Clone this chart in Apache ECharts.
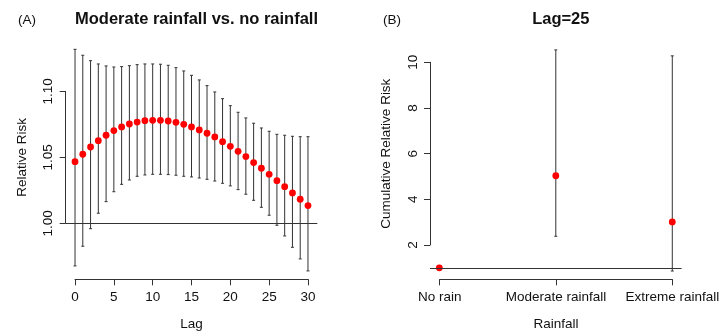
<!DOCTYPE html>
<html><head><meta charset="utf-8">
<script src="https://cdn.jsdelivr.net/npm/echarts@6/dist/echarts.min.js"></script>
<style>html,body{margin:0;padding:0;background:#fff}#c{width:723px;height:333px}</style>
</head><body><div id="c"></div>
<script>
// ---- data: panel A ----
const lags = [0,1,2,3,4,5,6,7,8,9,10,11,12,13,14,15,16,17,18,19,20,21,22,23,24,25,26,27,28,29,30];
const rr = [1.0467,1.0523,1.0578,1.0626,1.0667,1.0702,1.0730,1.0752,1.0767,1.0777,1.0780,1.0780,1.0775,1.0765,1.0750,1.0730,1.0707,1.0682,1.0654,1.0618,1.0583,1.0545,1.0505,1.0460,1.0417,1.0371,1.0323,1.0277,1.0230,1.0182,1.0134];
const rrLower = [0.9677,0.9826,0.9959,1.0076,1.0164,1.0239,1.0295,1.0328,1.0356,1.0366,1.0371,1.0371,1.0369,1.0364,1.0356,1.0351,1.0343,1.0333,1.0320,1.0303,1.0283,1.0255,1.0220,1.0174,1.0121,1.0061,0.9985,0.9904,0.9818,0.9730,0.9639];
const rrUpper = [1.1318,1.1273,1.1232,1.1207,1.1192,1.1184,1.1187,1.1194,1.1202,1.1207,1.1207,1.1205,1.1197,1.1179,1.1154,1.1121,1.1086,1.1043,1.0995,1.0944,1.0891,1.0841,1.0798,1.0758,1.0722,1.0697,1.0674,1.0667,1.0659,1.0656,1.0656];
// ---- data: panel B ----
const rainCats = ['No rain','Moderate rainfall','Extreme rainfall'];
const rainPos = [1,2,3];
const crr = [1, 5.03, 3.01];
const crrLower = [1, 2.38, 0.86];
const crrUpper = [1, 10.54, 10.28];

const FONT = '"Liberation Sans", Arial, Helvetica, sans-serif';
const LINE = '#333333';
const TXT = '#111111';

function errRender(params, api) {
  const x = api.value(0), lo = api.value(1), hi = api.value(2);
  const p1 = api.coord([x, lo]), p2 = api.coord([x, hi]);
  const cap = 1.5;
  const style = {stroke: LINE, lineWidth: 1};
  return {type: 'group', children: [
    {type: 'line', shape: {x1: p1[0], y1: p1[1], x2: p2[0], y2: p2[1]}, style: style},
    {type: 'line', shape: {x1: p1[0] - cap, y1: p1[1], x2: p1[0] + cap, y2: p1[1]}, style: style},
    {type: 'line', shape: {x1: p2[0] - cap, y1: p2[1], x2: p2[0] + cap, y2: p2[1]}, style: style}
  ]};
}

const tickStyle = {show: true, length: 6, lineStyle: {color: LINE, width: 1}};
const lineStyle = {show: true, lineStyle: {color: LINE, width: 1}};
const lblStyle = {color: TXT, fontFamily: FONT, fontSize: 13.5};
const nameStyle = {color: TXT, fontFamily: FONT, fontSize: 13.5};

const errA = lags.map((l, i) => [l, rrLower[i], rrUpper[i]]);
const ptsA = lags.map((l, i) => [l, rr[i]]);
const errB = rainPos.map((p, i) => [p, crrLower[i], crrUpper[i]]);
const ptsB = rainPos.map((p, i) => [p, crr[i]]);

const option = {
  animation: false,
  backgroundColor: '#fff',
  title: [
    {text: 'Moderate rainfall vs. no rainfall', left: 191.5, top: 6, textAlign: 'center',
     textStyle: {fontFamily: FONT, fontSize: 16.5, fontWeight: 'bold', color: TXT}},
    {text: 'Lag=25', left: 555.8, top: 6, textAlign: 'center',
     textStyle: {fontFamily: FONT, fontSize: 16.5, fontWeight: 'bold', color: TXT}},
    {text: '(A)', left: 13, top: 8, textStyle: {fontFamily: FONT, fontSize: 13.5, fontWeight: 'normal', color: TXT}},
    {text: '(B)', left: 378, top: 8, textStyle: {fontFamily: FONT, fontSize: 13.5, fontWeight: 'normal', color: TXT}}
  ],
  grid: [
    {left: 65.7, top: 41, width: 251.6, height: 238.5},   // 0 A data
    {left: 75, top: 269.3, width: 233, height: 10},       // 1 A x axis
    {left: 65.7, top: 91.3, width: 10, height: 132},      // 2 A y axis
    {left: 430, top: 41, width: 251.6, height: 238.5},    // 3 B data
    {left: 439.7, top: 269.3, width: 232.6, height: 10},  // 4 B x axis
    {left: 430, top: 62.3, width: 10, height: 182.7}      // 5 B y axis
  ],
  xAxis: [
    {gridIndex: 0, type: 'value', min: -1.2, max: 31.2, show: false},
    {gridIndex: 1, type: 'value', min: 0, max: 30, interval: 5, axisLine: lineStyle, axisTick: tickStyle,
     splitLine: {show: false}, axisLabel: Object.assign({margin: 11}, lblStyle),
     name: 'Lag', nameLocation: 'middle', nameGap: 37.5, nameTextStyle: nameStyle},
    {gridIndex: 2, type: 'value', show: false},
    {gridIndex: 3, type: 'value', min: 0.92, max: 3.08, show: false},
    {gridIndex: 4, type: 'category', data: rainCats, boundaryGap: false, axisLine: lineStyle,
     axisTick: Object.assign({alignWithLabel: true}, tickStyle), splitLine: {show: false},
     axisLabel: Object.assign({margin: 11, interval: 0}, lblStyle),
     name: 'Rainfall', nameLocation: 'middle', nameGap: 37.5, nameTextStyle: nameStyle},
    {gridIndex: 5, type: 'value', show: false}
  ],
  yAxis: [
    {gridIndex: 0, type: 'value', min: 0.9574, max: 1.1381, show: false},
    {gridIndex: 1, type: 'value', show: false},
    {gridIndex: 2, type: 'value', min: 1.0, max: 1.1, interval: 0.05, axisLine: lineStyle, axisTick: tickStyle,
     splitLine: {show: false},
     axisLabel: Object.assign({margin: 10, rotate: 90, formatter: v => v.toFixed(2)}, lblStyle),
     name: 'Relative Risk', nameLocation: 'middle', nameGap: 36, nameRotate: 90, nameTextStyle: nameStyle},
    {gridIndex: 3, type: 'value', min: 0.489, max: 10.93, show: false},
    {gridIndex: 4, type: 'value', show: false},
    {gridIndex: 5, type: 'value', min: 2, max: 10, interval: 2, axisLine: lineStyle, axisTick: tickStyle,
     splitLine: {show: false},
     axisLabel: Object.assign({margin: 10, rotate: 90}, lblStyle),
     name: 'Cumulative Relative Risk', nameLocation: 'middle', nameGap: 37, nameRotate: 90, nameTextStyle: nameStyle}
  ],
  series: [
    {type: 'custom', xAxisIndex: 0, yAxisIndex: 0, renderItem: errRender, data: errA, z: 2, silent: true},
    {type: 'scatter', xAxisIndex: 0, yAxisIndex: 0, data: ptsA, symbolSize: 6.8, z: 3,
     itemStyle: {color: '#ff0000', opacity: 1},
     markLine: {silent: true, symbol: 'none', label: {show: false},
       lineStyle: {color: LINE, width: 1, type: 'solid'}, data: [{yAxis: 1}]}},
    {type: 'custom', xAxisIndex: 3, yAxisIndex: 3, renderItem: errRender, data: errB, z: 2, silent: true},
    {type: 'scatter', xAxisIndex: 3, yAxisIndex: 3, data: ptsB, symbolSize: 6.8, z: 3,
     itemStyle: {color: '#ff0000', opacity: 1},
     markLine: {silent: true, symbol: 'none', label: {show: false},
       lineStyle: {color: LINE, width: 1, type: 'solid'}, data: [{yAxis: 1}]}}
  ]
};
const chart = echarts.init(document.getElementById('c'), null, {renderer: 'canvas'});
chart.setOption(option);
</script></body></html>
